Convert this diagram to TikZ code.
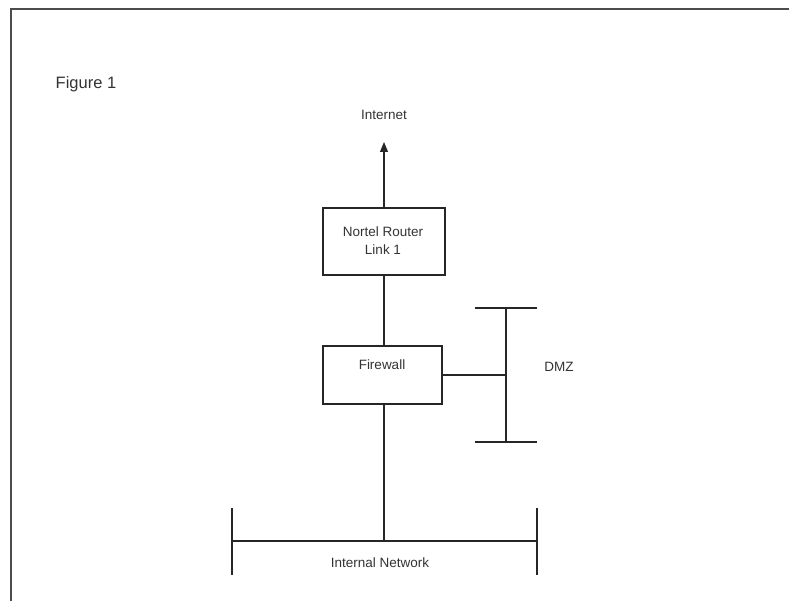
\documentclass[tikz,border=0pt]{standalone}
\usepackage{fontspec}
\setmainfont{Liberation Sans}
\usetikzlibrary{arrows.meta}
\begin{document}
\begin{tikzpicture}[x=1pt,y=-1pt,
  wire/.style={draw=black!85,line width=1.1pt},
  boxnode/.style={draw=black!85,line width=1.1pt,rectangle,inner sep=0pt},
  lbl/.style={font=\fontsize{13.5}{15}\selectfont,text=black!80,inner sep=0pt},
]
\useasboundingbox (0,0) rectangle (789,601);
% page frame (top and left edges)
\draw[draw=black!70,line width=2pt] (11,601) -- (11,9) -- (789,9);

\node[lbl,font=\fontsize{16.5}{18}\selectfont] (fig) at (86,84) {Figure 1};

% router and firewall boxes
\node[boxnode,minimum width=122pt,minimum height=67pt] (router) at (384,241.5) {};
\node[lbl,align=center,font=\fontsize{13.5}{18}\selectfont] (routertxt) at (383,241) {Nortel Router\\Link 1};
\node[boxnode,minimum width=119pt,minimum height=58pt] (fw) at (382.5,375) {};
\node[lbl] (fwtxt) at (382,365) {Firewall};

% vertical trunk line through both boxes
\coordinate (trunk) at (384,0);

% internet uplink
\node[lbl] (inet) at (384,115) {Internet};
\coordinate (inettip) at (384,142);
\draw[wire,-{Triangle[length=10pt,width=8pt]}] (router.north) -- (inettip);

% router to firewall
\draw[wire] (router.south) -- (fw.north -| trunk);

% DMZ segment
\coordinate (dmzT) at (506,308);
\coordinate (dmzB) at (506,442);
\coordinate (dmzM) at (506,375);
\draw[wire] (dmzT) -- (dmzB);
\draw[wire] (475,308) -- (537,308);
\draw[wire] (475,442) -- (537,442);
\draw[wire] (fw.east) -- (dmzM);
\node[lbl] (dmz) at (559,367) {DMZ};

% internal network segment
\coordinate (netM) at (384,541);
\coordinate (netL) at (232,541);
\coordinate (netR) at (537,541);
\draw[wire] (fw.south -| trunk) -- (netM);
\draw[wire] (netL) -- (netR);
\draw[wire] (232,508) -- (232,575);
\draw[wire] (537,508) -- (537,575);
\node[lbl] (inner) at (380,563) {Internal Network};
\end{tikzpicture}
\end{document}
